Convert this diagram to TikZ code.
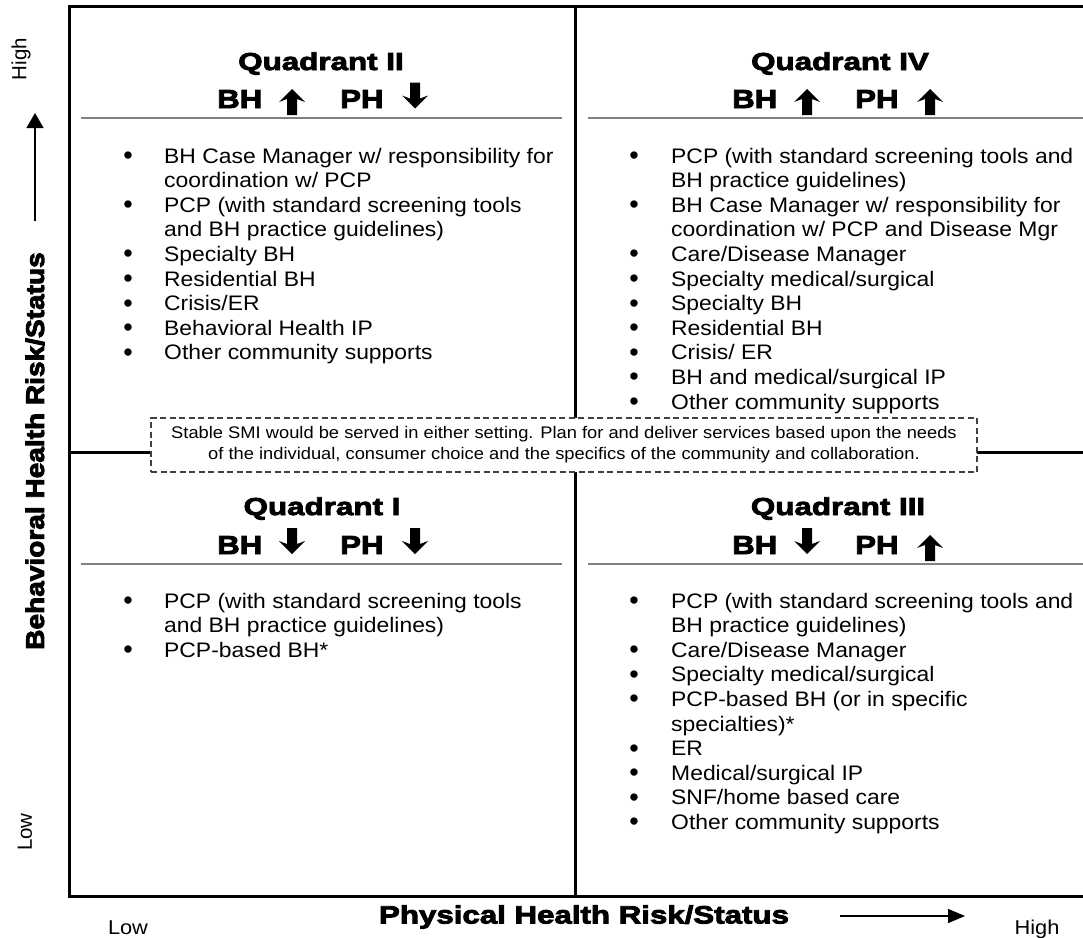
\documentclass[tikz,border=0pt]{standalone}
\usepackage{fontspec}
\setmainfont{Liberation Sans}
\newfontfamily\bodyfont[FakeStretch=1.09]{Liberation Sans}
\newfontfamily\plainfont{Liberation Sans}
\newfontfamily\hdfont[FakeStretch=1.28,FakeBold=3.5]{Liberation Sans Bold}
\newfontfamily\bhfont[FakeStretch=1.2,FakeBold=3.5]{Liberation Sans Bold}
\newfontfamily\phfont[FakeStretch=1.25,FakeBold=3.5]{Liberation Sans Bold}
\newfontfamily\vfont[FakeStretch=1.1,FakeBold=3.5]{Liberation Sans Bold}
\usetikzlibrary{arrows.meta}
\newcommand\litem[5]{\node[bul] (#1b) at (#2,#4) {•};\node[body] (#1) at (#3,#4) {#5};}
\begin{document}
\begin{tikzpicture}[x=1pt,y=-1pt,
  body/.style={font=\bodyfont\fontsize{21}{24.6}\selectfont, inner sep=0pt, anchor=base west},
  bul/.style={font=\plainfont\fontsize{27}{24.6}\selectfont, inner sep=0pt, anchor=base, yshift=-1.5pt},
  qtitle/.style={font=\hdfont\fontsize{24.5}{28}\selectfont, inner sep=0pt, anchor=base},
  bhph/.style={font=\bhfont\fontsize{26}{30}\selectfont, inner sep=0pt, anchor=base west},
  frameline/.style={line width=3pt, line join=miter},
  sepline/.style={line width=1.8pt, draw=black!50},
  note/.style={draw=black!75, dash pattern=on 6pt off 3.5pt, line width=1.3pt, fill=white,
    minimum width=826pt, minimum height=54pt, inner sep=0pt, align=center,
    font=\bodyfont\fontsize{16.8}{21}\selectfont},
  small/.style={font=\bodyfont\fontsize{20}{24}\selectfont, inner sep=0pt},
  smallrot/.style={font=\plainfont\fontsize{20.5}{24}\selectfont, inner sep=0pt, rotate=90},
  axarrow/.style={line width=1.3pt},
  uparr/.pic={\fill (0,-13) -- (13,0) -- (5,-3) -- (5,13) -- (-5,13) -- (-5,-3) -- (-13,0) -- cycle;},
  dnarr/.pic={\fill (0,13) -- (13,0) -- (5,3) -- (5,-13) -- (-5,-13) -- (-5,3) -- (-13,0) -- cycle;}
]
\useasboundingbox (0,0) rectangle (1083,937);
\clip (0,0) rectangle (1083,937);
\fill[white] (0,0) rectangle (1083,937);

% frame and quadrant lines
\draw[frameline] (1090,6) -- (69,6) -- (69,896) -- (1090,896);
\draw[frameline] (575,6) -- (575,896);
\draw[frameline] (69,452) -- (1090,452);

% separators
\draw[sepline] (81,118) -- (562,118);
\draw[sepline] (588,118) -- (1090,118);
\draw[sepline] (81,564) -- (562,564);
\draw[sepline] (588,564) -- (1090,564);

% note box
\node[note] (note) at (564,445) {Stable SMI would be served in either setting. Plan for and deliver services based upon the needs\\of the individual, consumer choice and the specifics of the community and collaboration.};

% headers
\node[qtitle] (q2) at (321,70) {Quadrant II};
\node[bhph] (q2bh) at (217,108) {BH};
\pic at (292,102) {uparr};
\node[bhph] (q2ph) at (340,108) {PH};
\pic at (415,95.5) {dnarr};

\node[qtitle] (q4) at (840,70) {Quadrant IV};
\node[bhph] (q4bh) at (732,108) {BH};
\pic at (807,102) {uparr};
\node[bhph] (q4ph) at (855,108) {PH};
\pic at (930,102) {uparr};

\node[qtitle] (q1) at (322,515) {Quadrant I};
\node[bhph] (q1bh) at (217,554) {BH};
\pic at (292,541) {dnarr};
\node[bhph] (q1ph) at (340,554) {PH};
\pic at (415,541) {dnarr};

\node[qtitle] (q3) at (838,515) {Quadrant III};
\node[bhph] (q3bh) at (732,554) {BH};
\pic at (807,541) {dnarr};
\node[bhph] (q3ph) at (855,554) {PH};
\pic at (930,548) {uparr};

% Quadrant II list
\litem{a1}{128}{164}{163}{BH Case Manager w/ responsibility for}
\node[body] (a1c) at (164,187.6) {coordination w/ PCP};
\litem{a2}{128}{164}{212.2}{PCP (with standard screening tools}
\node[body] (a2c) at (164,236.8) {and BH practice guidelines)};
\litem{a3}{128}{164}{261.4}{Specialty BH}
\litem{a4}{128}{164}{286}{Residential BH}
\litem{a5}{128}{164}{310.6}{Crisis/ER}
\litem{a6}{128}{164}{335.2}{Behavioral Health IP}
\litem{a7}{128}{164}{359.8}{Other community supports}

% Quadrant IV list
\litem{b1}{634}{671}{163}{PCP (with standard screening tools and}
\node[body] (b1c) at (671,187.6) {BH practice guidelines)};
\litem{b2}{634}{671}{212.2}{BH Case Manager w/ responsibility for}
\node[body] (b2c) at (671,236.8) {coordination w/ PCP and Disease Mgr};
\litem{b3}{634}{671}{261.4}{Care/Disease Manager}
\litem{b4}{634}{671}{286}{Specialty medical/surgical}
\litem{b5}{634}{671}{310.6}{Specialty BH}
\litem{b6}{634}{671}{335.2}{Residential BH}
\litem{b7}{634}{671}{359.8}{Crisis/ ER}
\litem{b8}{634}{671}{384.4}{BH and medical/surgical IP}
\litem{b9}{634}{671}{409}{Other community supports}

% Quadrant I list
\litem{c1}{128}{164}{608}{PCP (with standard screening tools}
\node[body] (c1c) at (164,632.6) {and BH practice guidelines)};
\litem{c2}{128}{164}{657.2}{PCP-based BH*}

% Quadrant III list
\litem{d1}{634}{671}{608}{PCP (with standard screening tools and}
\node[body] (d1c) at (671,632.6) {BH practice guidelines)};
\litem{d2}{634}{671}{657.2}{Care/Disease Manager}
\litem{d3}{634}{671}{681.8}{Specialty medical/surgical}
\litem{d4}{634}{671}{706.4}{PCP-based BH (or in specific}
\node[body] (d4c) at (671,731) {specialties)*};
\litem{d5}{634}{671}{755.6}{ER}
\litem{d6}{634}{671}{780.2}{Medical/surgical IP}
\litem{d7}{634}{671}{804.8}{SNF/home based care}
\litem{d8}{634}{671}{829.4}{Other community supports}

% axes
\node[smallrot] (yhigh) at (21,59) {High};
\node[smallrot] (ylow) at (25,832) {Low};
\node[font=\vfont\fontsize{25.5}{30}\selectfont, inner sep=0pt, rotate=90] (ylab) at (35,451) {Behavioral Health Risk/Status};
\coordinate (ya0) at (35,221);
\coordinate (ya1) at (35,113);
\draw[axarrow, -{Triangle[length=15pt,width=17pt]}] (ya0) -- (ya1);

\node[small, anchor=base] (xlow) at (128,934) {Low};
\node[small, anchor=base] (xhigh) at (1037,934) {High};
\node[font=\phfont\fontsize{25}{30}\selectfont, inner sep=0pt] (xlab) at (584,917) {Physical Health Risk/Status};
\coordinate (xa0) at (840,916);
\coordinate (xa1) at (965,916);
\draw[axarrow, -{Triangle[length=17pt,width=14pt]}] (xa0) -- (xa1);
\end{tikzpicture}
\end{document}
